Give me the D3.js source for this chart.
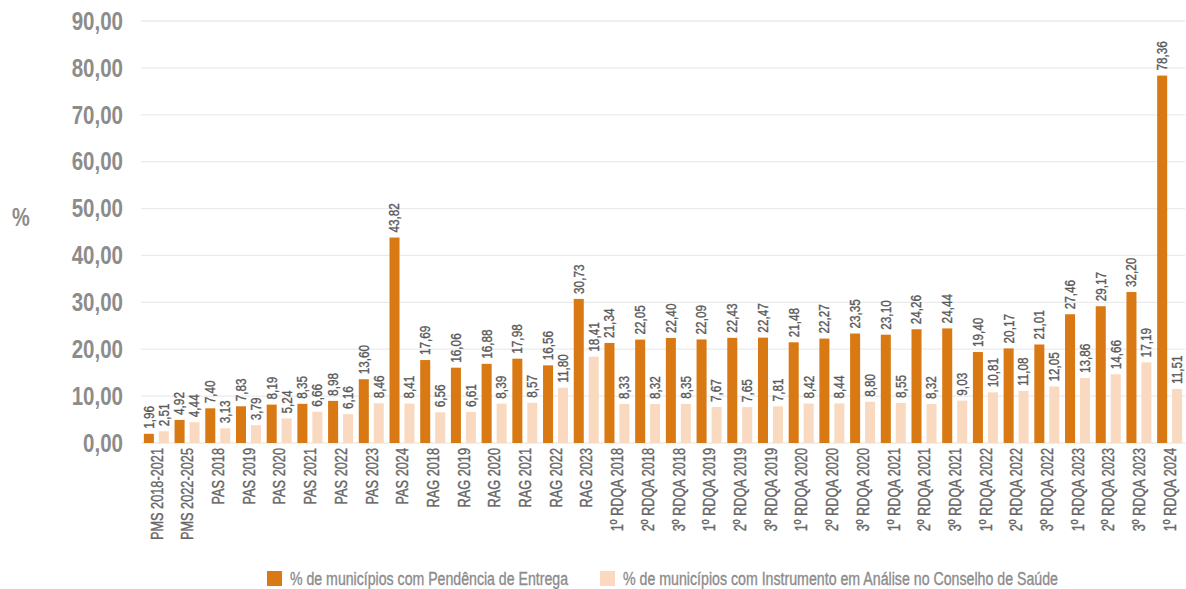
<!DOCTYPE html>
<html>
<head>
<meta charset="utf-8">
<script src="https://cdn.jsdelivr.net/npm/d3@7"></script>
<style>
  html, body { margin: 0; padding: 0; background: #ffffff; }
  svg { display: block; font-family: "Liberation Sans", Arial, sans-serif; }
</style>
</head>
<body>
<svg id="chart" width="1186" height="589"></svg>
<script>
// Instrument categories (planning and reporting instruments)
const categories = [
  "PMS 2018-2021", "PMS 2022-2025",
  "PAS 2018", "PAS 2019", "PAS 2020", "PAS 2021", "PAS 2022", "PAS 2023", "PAS 2024",
  "RAG 2018", "RAG 2019", "RAG 2020", "RAG 2021", "RAG 2022", "RAG 2023",
  "1º RDQA 2018", "2º RDQA 2018", "3º RDQA 2018",
  "1º RDQA 2019", "2º RDQA 2019", "3º RDQA 2019",
  "1º RDQA 2020", "2º RDQA 2020", "3º RDQA 2020",
  "1º RDQA 2021", "2º RDQA 2021", "3º RDQA 2021",
  "1º RDQA 2022", "2º RDQA 2022", "3º RDQA 2022",
  "1º RDQA 2023", "2º RDQA 2023", "3º RDQA 2023",
  "1º RDQA 2024"
];

// % of municipalities with pending delivery
const pendencia = [
  1.96, 4.92, 7.40, 7.83, 8.19, 8.35, 8.98, 13.60, 43.82,
  17.69, 16.06, 16.88, 17.98, 16.56, 30.73,
  21.34, 22.05, 22.40, 22.09, 22.43, 22.47, 21.48, 22.27, 23.35,
  23.10, 24.26, 24.44, 19.40, 20.17, 21.01, 27.46, 29.17, 32.20, 78.36
];

// % of municipalities with the instrument under review by the health council
const analise = [
  2.51, 4.44, 3.13, 3.79, 5.24, 6.66, 6.16, 8.46, 8.41,
  6.56, 6.61, 8.39, 8.57, 11.80, 18.41,
  8.33, 8.32, 8.35, 7.67, 7.65, 7.81, 8.42, 8.44, 8.80,
  8.55, 8.32, 9.03, 10.81, 11.08, 12.05, 13.86, 14.66, 17.19, 11.51
];

const yTicks = [0, 10, 20, 30, 40, 50, 60, 70, 80, 90];

const seriesNames = [
  "% de municípios com Pendência de Entrega",
  "% de municípios com Instrumento em Análise no Conselho de Saúde"
];
const colors = ["#D97914", "#F9DAC0"];

const svg = d3.select("#chart");
const fmt = v => d3.format(".2f")(v).replace(".", ",");

const x0 = d3.scaleBand().domain(categories).range([141, 1185]).padding(0);
const x1 = d3.scaleBand().domain([0, 1]).range([0, 25]).paddingInner(0.33);
const y = d3.scaleLinear().domain([0, 90]).range([443, 21]);

// horizontal gridlines
svg.append("g")
  .selectAll("line")
  .data(yTicks)
  .join("line")
  .attr("x1", 141).attr("x2", 1185)
  .attr("y1", d => y(d)).attr("y2", d => y(d))
  .attr("stroke", "#ebebeb").attr("stroke-width", 1.3);

// y axis labels (narrowed horizontally for a condensed look)
svg.append("g")
  .selectAll("text")
  .data(yTicks)
  .join("text")
  .attr("transform", d => `translate(123,${y(d)}) scale(0.82,1)`)
  .attr("text-anchor", "end")
  .attr("dominant-baseline", "central")
  .attr("fill", "#8c8c8c")
  .style("font-size", "25px")
  .style("font-weight", "bold")
  .text(fmt);

svg.append("text")
  .attr("transform", "translate(21,218) scale(0.8,1)")
  .attr("text-anchor", "middle").attr("dominant-baseline", "central")
  .attr("fill", "#8c8c8c")
  .style("font-size", "25px").style("font-weight", "bold")
  .text("%");

// grouped bars
const rows = categories.map((c, i) => ({ cat: c, vals: [pendencia[i], analise[i]] }));
const groups = svg.append("g")
  .selectAll("g")
  .data(rows)
  .join("g")
  .attr("transform", d => `translate(${x0(d.cat) + (x0.bandwidth() - 25) / 2},0)`);

groups.selectAll("rect")
  .data(d => d.vals.map((v, k) => ({ k, v })))
  .join("rect")
  .attr("x", d => x1(d.k))
  .attr("width", x1.bandwidth())
  .attr("y", d => y(d.v))
  .attr("height", d => y(0) - y(d.v))
  .attr("fill", d => colors[d.k]);

// value labels, rotated above each bar
groups.selectAll("text")
  .data(d => d.vals.map((v, k) => ({ k, v })))
  .join("text")
  .attr("transform", d => `translate(${x1(d.k) + x1.bandwidth() / 2},${y(d.v) - 5}) rotate(-90) scale(0.84,1)`)
  .attr("text-anchor", "start")
  .attr("dominant-baseline", "central")
  .attr("fill", "#595959")
  .attr("stroke", "#595959")
  .attr("stroke-width", 0.35)
  .style("font-size", "14px")
  .text(d => fmt(d.v));

// category labels
svg.append("g")
  .selectAll("text")
  .data(categories)
  .join("text")
  .attr("transform", d => `translate(${x0(d) + x0.bandwidth() / 2},448) rotate(-90) scale(0.75,1)`)
  .attr("text-anchor", "end")
  .attr("dominant-baseline", "central")
  .attr("fill", "#666666")
  .attr("stroke", "#666666")
  .attr("stroke-width", 0.4)
  .style("font-size", "17px")
  .text(d => d);

// legend
const legendItems = [
  { name: seriesNames[0], color: colors[0], x: 267, w: 278 },
  { name: seriesNames[1], color: colors[1], x: 600, w: 435 }
];
const legend = svg.append("g").selectAll("g").data(legendItems).join("g")
  .attr("transform", d => `translate(${d.x},571)`);
legend.append("rect").attr("width", 15).attr("height", 15).attr("fill", d => d.color);
legend.append("text")
  .attr("x", 23).attr("y", 8)
  .attr("dominant-baseline", "central")
  .attr("fill", "#8c8c8c")
  .attr("stroke", "#8c8c8c")
  .attr("stroke-width", 0.35)
  .attr("textLength", d => d.w)
  .attr("lengthAdjust", "spacingAndGlyphs")
  .style("font-size", "18px")
  .text(d => d.name);
</script>
</body>
</html>
